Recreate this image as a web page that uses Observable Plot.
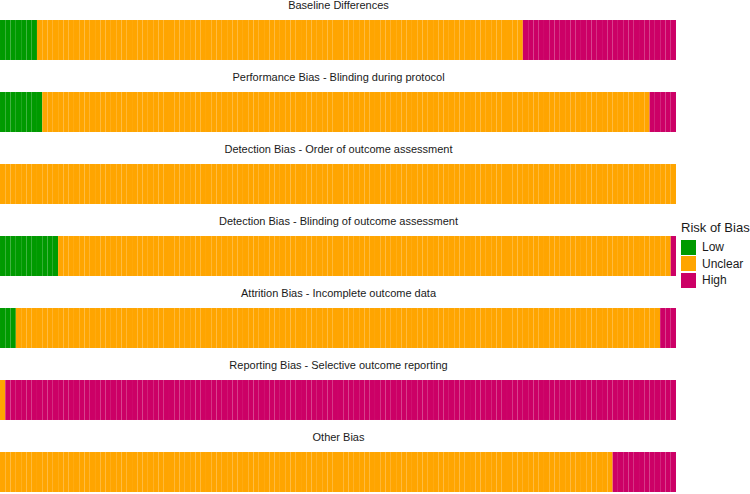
<!DOCTYPE html>
<html>
<head>
<meta charset="utf-8">
<script src="https://cdn.jsdelivr.net/npm/d3@7"></script>
<script src="https://cdn.jsdelivr.net/npm/@observablehq/plot@0.6"></script>
<style>
  html, body { margin: 0; padding: 0; background: #fff; }
  #wrap { position: relative; width: 750px; height: 494px; font-family: "Liberation Sans", Arial, sans-serif; }
  #legend { position: absolute; left: 681px; top: 219px; color: #1a1a1a; white-space: nowrap; }
  #legend .title { font-size: 13px; line-height: 17px; margin-bottom: 3px; }
  #legend .row { display: flex; align-items: center; height: 16.6px; font-size: 12px; }
  #legend .sw { width: 15px; height: 15px; margin-right: 6px; }
</style>
</head>
<body>
<div id="wrap"><div id="chart"></div><div id="legend"></div></div>
<script>
const domains = [
  "Baseline Differences",
  "Performance Bias - Blinding during protocol",
  "Detection Bias - Order of outcome assessment",
  "Detection Bias - Blinding of outcome assessment",
  "Attrition Bias - Incomplete outcome data",
  "Reporting Bias - Selective outcome reporting",
  "Other Bias"
];
const riskLevels = ["Low", "Unclear", "High"];
const lowCounts = [7, 8, 0, 11, 3, 0, 0];
const unclearCounts = [92, 115, 128, 116, 122, 1, 116];
const highCounts = [29, 5, 0, 1, 3, 127, 12];
const riskColors = ["#009a00", "#ffa500", "#cc0066"];

const cells = [];
domains.forEach((d, i) => {
  let k = 0;
  const counts = [lowCounts[i], unclearCounts[i], highCounts[i]];
  riskLevels.forEach((r, j) => {
    for (let c = 0; c < counts[j]; c++) {
      cells.push({domain: d, risk: r, x1: k, x2: k + 1});
      k++;
    }
  });
});
const nStudies = lowCounts[0] + unclearCounts[0] + highCounts[0];

const chart = Plot.plot({
  width: 750,
  height: 494,
  marginLeft: 0,
  marginRight: 74,
  marginTop: 17.3,
  marginBottom: 0,
  style: {fontFamily: "'Liberation Sans', Arial, sans-serif", background: "#fff"},
  x: {domain: [0, nStudies], axis: null},
  fy: {domain: domains, axis: null, paddingInner: 0.45, paddingOuter: 0},
  color: {domain: riskLevels, range: riskColors},
  marks: [
    Plot.rectX(cells, {
      x1: "x1", x2: "x2", fy: "domain", fill: "risk",
      stroke: "#ffffff", strokeWidth: 0.25, strokeOpacity: 0.08
    }),
    Plot.text(domains, {
      fy: d => d, text: d => d, frameAnchor: "top", dy: -15.5,
      lineAnchor: "middle", fontSize: 11, fill: "#1a1a1a"
    })
  ]
});
document.getElementById("chart").appendChild(chart);

const legend = document.getElementById("legend");
const t = document.createElement("div");
t.className = "title";
t.textContent = "Risk of Bias";
legend.appendChild(t);
riskLevels.forEach((r, i) => {
  const row = document.createElement("div");
  row.className = "row";
  const sw = document.createElement("div");
  sw.className = "sw";
  sw.style.background = riskColors[i];
  const lab = document.createElement("span");
  lab.textContent = r;
  row.appendChild(sw);
  row.appendChild(lab);
  legend.appendChild(row);
});
</script>
</body>
</html>
